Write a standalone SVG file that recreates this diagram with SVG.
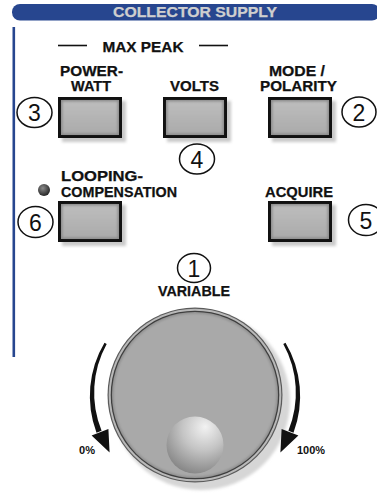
<svg xmlns="http://www.w3.org/2000/svg" width="377" height="493" viewBox="0 0 377 493">
<defs>
<style>
.lbl{font-family:"Liberation Sans",Arial,sans-serif;font-weight:bold;font-size:14.2px;fill:#111;stroke:#111;stroke-width:0.25;text-anchor:middle}
.lbls{font-family:"Liberation Sans",Arial,sans-serif;font-weight:bold;font-size:10.5px;fill:#111}
.num{font-family:"Liberation Sans",Arial,sans-serif;font-size:23px;fill:#111;text-anchor:middle}
.badge{fill:#fff;stroke:#111;stroke-width:1.5}
.dash{stroke:#111;stroke-width:1.6}
</style>
<filter id="blur2" x="-20%" y="-20%" width="140%" height="140%"><feGaussianBlur stdDeviation="1.5"/></filter>
<filter id="blur1" x="-20%" y="-20%" width="140%" height="140%"><feGaussianBlur stdDeviation="0.9"/></filter>
<linearGradient id="face" x1="0" y1="0" x2="0" y2="1">
<stop offset="0" stop-color="#bdbdbd"/><stop offset="1" stop-color="#ababab"/>
</linearGradient>
<radialGradient id="ball" cx="0.62" cy="0.25" r="0.85" fx="0.68" fy="0.18">
<stop offset="0" stop-color="#f2f2f2"/><stop offset="0.45" stop-color="#c4c4c4"/><stop offset="1" stop-color="#7c7c7c"/>
</radialGradient>
<radialGradient id="led" cx="0.4" cy="0.35" r="0.7">
<stop offset="0" stop-color="#8a8a8a"/><stop offset="1" stop-color="#1e1e1e"/>
</radialGradient>
<g id="btn">
<rect x="4" y="4" width="64" height="41" fill="#c9c9c9" filter="url(#blur2)"/>
<rect x="0" y="0" width="64" height="41" fill="#111"/>
<rect x="3" y="3" width="58" height="35" fill="#8c8c8c"/>
<rect x="4.5" y="4.5" width="55" height="32" fill="url(#face)" filter="url(#blur1)"/>
</g>
<path id="arrowL" d="M104.5 342.75 A104.5 104.5 0 0 0 96.5 432.8 L101.6 430.8 A101 101 0 0 1 106.7 344 Z M91.6 435.5 L108.4 428.9 L109.6 452.6 Z" fill="#111"/>
</defs>
<rect width="377" height="493" fill="#fff"/>

<g id="header">
<rect x="12" y="4" width="368" height="16.5" rx="8" fill="#27468f"/>
<text x="195" y="17" class="lbl" style="fill:#cfcfcf;stroke:#cfcfcf;font-size:14.5px" textLength="164" lengthAdjust="spacingAndGlyphs">COLLECTOR SUPPLY</text>
</g>
<rect id="panel-edge" x="12.5" y="27" width="2.6" height="330" fill="#27468f"/>

<g id="max-peak">
<line class="dash" x1="58" y1="45.5" x2="87" y2="45.5"/>
<line class="dash" x1="199" y1="45.5" x2="228" y2="45.5"/>
<text x="143" y="52" class="lbl" textLength="81" lengthAdjust="spacingAndGlyphs">MAX PEAK</text>
</g>

<g id="power-watt">
<text x="91.5" y="76" class="lbl" textLength="63" lengthAdjust="spacingAndGlyphs">POWER-</text>
<text x="91" y="91" class="lbl" textLength="40" lengthAdjust="spacingAndGlyphs">WATT</text>
<use href="#btn" x="58" y="97"/>
</g>
<g id="volts">
<text x="194.5" y="91" class="lbl" textLength="49" lengthAdjust="spacingAndGlyphs">VOLTS</text>
<use href="#btn" x="163" y="97"/>
</g>
<g id="mode-polarity">
<text x="297" y="76" class="lbl" textLength="56" lengthAdjust="spacingAndGlyphs">MODE /</text>
<text x="298.5" y="91" class="lbl" textLength="77" lengthAdjust="spacingAndGlyphs">POLARITY</text>
<use href="#btn" x="268" y="97"/>
</g>
<g id="looping-compensation">
<circle cx="44" cy="190" r="6" fill="url(#led)"/>
<text x="61" y="181" class="lbl" style="text-anchor:start" textLength="82" lengthAdjust="spacingAndGlyphs">LOOPING-</text>
<text x="61" y="196.5" class="lbl" style="text-anchor:start" textLength="116" lengthAdjust="spacingAndGlyphs">COMPENSATION</text>
<use href="#btn" x="58" y="201"/>
</g>
<g id="acquire">
<text x="299" y="197" class="lbl" textLength="68" lengthAdjust="spacingAndGlyphs">ACQUIRE</text>
<use href="#btn" x="268" y="201"/>
</g>

<g id="badge-3"><ellipse class="badge" cx="34.5" cy="112.5" rx="17.5" ry="15"/><text class="num" x="34.5" y="121">3</text></g>
<g id="badge-2"><ellipse class="badge" cx="359" cy="112" rx="17" ry="15"/><text class="num" x="359" y="120.5">2</text></g>
<g id="badge-4"><ellipse class="badge" cx="197" cy="159" rx="17.5" ry="15"/><text class="num" x="197" y="167.5">4</text></g>
<g id="badge-6"><ellipse class="badge" cx="35.5" cy="222" rx="17.5" ry="15.5"/><text class="num" x="35.5" y="230.5">6</text></g>
<g id="badge-5"><ellipse class="badge" cx="366" cy="220" rx="17.5" ry="15.5"/><text class="num" x="366" y="228.5">5</text></g>
<g id="badge-1"><ellipse class="badge" cx="194" cy="268" rx="16.5" ry="14.5"/><text class="num" x="194" y="276.5">1</text></g>

<g id="variable-knob">
<text x="194" y="296" class="lbl" textLength="72" lengthAdjust="spacingAndGlyphs">VARIABLE</text>
<circle cx="201" cy="401" r="89" fill="#d6d6d6" filter="url(#blur2)"/>
<circle cx="195" cy="395" r="87.5" fill="#5a5a5a"/>
<circle cx="195" cy="395" r="86.3" fill="#b9b9b9"/>
<circle cx="195" cy="395" r="84.3" fill="#3c3c3c"/>
<circle cx="195" cy="395" r="83" fill="#8f8f8f"/>
<circle cx="195" cy="395" r="81.5" fill="#a9a9a9" filter="url(#blur1)"/>
<circle cx="195" cy="445" r="28.5" fill="url(#ball)"/>
</g>

<g id="arrows">
<use href="#arrowL"/>
<use href="#arrowL" transform="translate(390 0) scale(-1 1)"/>
<text x="79" y="454" class="lbls" textLength="16" lengthAdjust="spacingAndGlyphs">0%</text>
<text x="297" y="454" class="lbls" textLength="28" lengthAdjust="spacingAndGlyphs">100%</text>
</g>
</svg>
